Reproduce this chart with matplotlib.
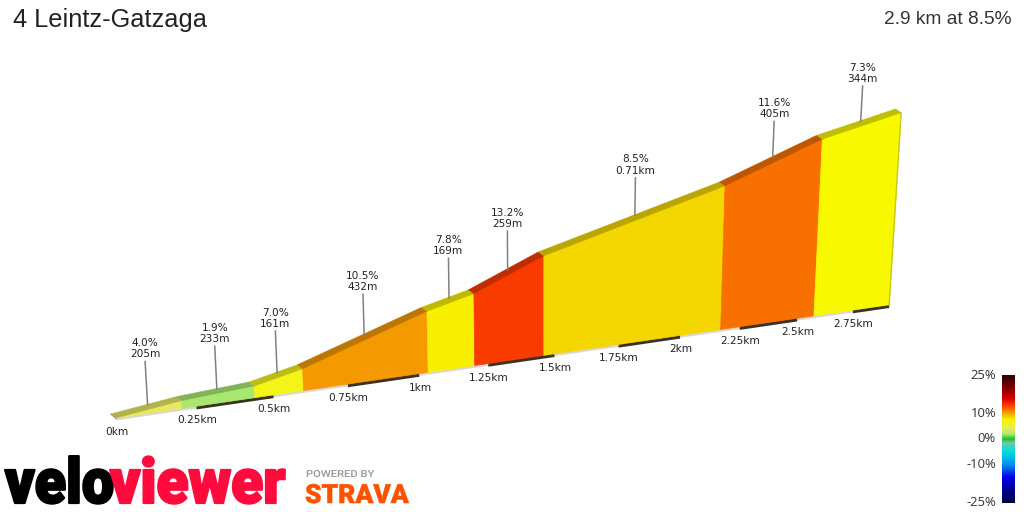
import numpy as np
import matplotlib
matplotlib.use("Agg")
import matplotlib.pyplot as plt
from matplotlib.transforms import Transform, Affine2D
from matplotlib.colors import LinearSegmentedColormap, Normalize
import matplotlib.patheffects as pe

# ---- data ----
title = "4 Leintz-Gatzaga"
summary = "2.9 km at 8.5%"
seg_len_m = [205, 233, 161, 432, 169, 259, 710, 405, 344]
seg_grade = [4.0, 1.9, 7.0, 10.5, 7.8, 13.2, 8.5, 11.6, 7.3]
seg_text = ["205m", "233m", "161m", "432m", "169m", "259m", "0.71km", "405m", "344m"]
tick_km = [0, 0.25, 0.5, 0.75, 1, 1.25, 1.5, 1.75, 2, 2.25, 2.5, 2.75]
tick_text = ["0km", "0.25km", "0.5km", "0.75km", "1km", "1.25km", "1.5km",
             "1.75km", "2km", "2.25km", "2.5km", "2.75km"]
cbar_ticks = [25, 10, 0, -10, -25]
grade_knots = [-25, -15, -10, -5, -1.5, 0, 1.9, 4, 7, 7.3, 7.8, 8.5, 10.5, 11.6, 13.2, 16, 20, 25]
grade_colors = ["#000040", "#0000e8", "#0090f0", "#00e0e0", "#70c8a8", "#18c020", "#a8e870",
                "#e8e860", "#f4f418", "#f8f800", "#f8f000", "#f4d800", "#f59a00", "#f87000",
                "#fa3c00", "#d80000", "#800000", "#300000"]


class Perspective(Transform):
    """(distance km, elevation m) -> page pixels of the oblique 3-D view."""
    input_dims = 2
    output_dims = 2
    is_separable = False

    def transform_non_affine(self, values):
        v = np.asarray(values, float)
        d, h = v[:, 0], v[:, 1]
        bx = 116 + 328.3 * d / (1 + 0.0819 * d)
        by = 418 - 0.1464 * (bx - 116)
        x = bx + 1.4e-4 * (bx - 545) * h
        y = by - 0.955 * h / (1 + 0.0819 * d)
        return np.column_stack([x, y])


class Stretch(pe.AbstractPathEffect):
    """Draw a text's glyphs scaled about its anchor, to fit the logo lettering."""

    def __init__(self, x0, y0, sx, sy, lw=0.0):
        super().__init__()
        self.x0, self.y0, self.sx, self.sy, self.lw = x0, y0, sx, sy, lw

    def draw_path(self, renderer, gc, tpath, affine, rgbFace=None):
        t = affine + Affine2D().translate(-self.x0, -self.y0).scale(self.sx, self.sy).translate(self.x0, self.y0)
        g = renderer.new_gc()
        g.copy_properties(gc)
        g.set_foreground(rgbFace)
        g.set_linewidth(self.lw)
        renderer.draw_path(g, tpath, t, rgbFace)
        g.restore()


P = Perspective()
W, H = 1024, 512
fig = plt.figure(figsize=(W / 100, H / 100), dpi=100)
ax = fig.add_axes([0, 0, 1, 1])
ax.axis("off")
ax.set_xlim(0, W)
ax.set_ylim(H, 0)

lo, hi = -25, 25
cmap = LinearSegmentedColormap.from_list(
    "grade", [((g - lo) / (hi - lo), c) for g, c in zip(grade_knots, grade_colors)], N=512)
norm = Normalize(lo, hi)

dist = np.concatenate([[0], np.cumsum(seg_len_m)]) / 1000
elev = np.concatenate([[0], np.cumsum(np.array(seg_len_m) * np.array(seg_grade) / 100)])
off = np.array([-5.5, -4.0])
small = dict(family="DejaVu Sans", fontsize=7.6, color="#222222", ha="center", va="center")
stick = P + Affine2D().translate(-1.5, -4) + ax.transData
stick_m = 47


def px(d, h):
    return P.transform(np.column_stack([d, h]))


# base strip with alternating quarter-km dashes
edges = tick_km + [dist[-1]]
for i in range(len(edges) - 1):
    p = px([edges[i], edges[i + 1]], [0, 0])
    dark = i % 2 == 1
    th = 3.2 if dark else 2.4
    ax.fill([p[0, 0], p[1, 0], p[1, 0], p[0, 0]],
            [p[0, 1] - .5, p[1, 1] - .5, p[1, 1] + th, p[0, 1] + th],
            color="#3a3226" if dark else "#dcd8d0", lw=0, zorder=1)
for t, lab in zip(tick_km, tick_text):
    ax.annotate(lab, xy=(t, 0), xycoords=P + ax.transData, xytext=(0.5, -14),
                textcoords="offset pixels", **small)

# start cap
s = px([0, 0], [0, 0])[0]
ax.fill([s[0] + off[0], s[0], s[0] + 1, s[0] + off[0] + .5],
        [s[1] + off[1] - 1, s[1] - 1, s[1] + 2, s[1] + off[1] + 1], color="#8f8f78", lw=0, zorder=2)

# walls, top strips and labels
for i, g in enumerate(seg_grade):
    col = np.array(cmap(norm(g))[:3])
    d0, d1, h0, h1 = dist[i], dist[i + 1], elev[i], elev[i + 1]
    ax.fill([d0, d1, d1, d0], [0, 0, h1, h0], transform=P + ax.transData,
            color=col, lw=0.5, zorder=3)
    t = px([d0, d1], [h0, h1])
    ax.fill([t[0, 0], t[1, 0], t[1, 0] + off[0], t[0, 0] + off[0]],
            [t[0, 1], t[1, 1], t[1, 1] + off[1], t[0, 1] + off[1]],
            color=col * 0.77, lw=0.3, zorder=4)
    dm, hm = (d0 + d1) / 2, (h0 + h1) / 2
    ax.plot([dm, dm], [hm, hm + stick_m], transform=stick, color="#808080", lw=1.1, zorder=5,
            solid_capstyle="butt")
    ax.annotate(f"{g:.1f}%\n{seg_text[i]}", xy=(dm, hm + stick_m), xycoords=stick,
                xytext=(0, 12), textcoords="offset pixels",
                linespacing=1.15, zorder=6, **small)

# right edge of last wall
e = px([dist[-1], dist[-1]], [0, elev[-1]])
ax.plot(e[:, 0], e[:, 1], color="#c8c820", lw=1, zorder=4)

# titles
ax.text(13, 20, title, family="Liberation Sans", fontsize=18.3, color="#222222", va="center", ha="left")
ax.text(1011, 19, summary, family="Liberation Sans", fontsize=13.75, color="#333333", va="center", ha="right")

# colour bar
vals = np.linspace(hi, lo, 256).reshape(-1, 1)
ax.imshow(vals, cmap=cmap, norm=norm, extent=[1002, 1015, 503, 375], aspect="auto", zorder=2)
for v in cbar_ticks:
    yy = np.interp(v, [lo, hi], [502, 375.5])
    ax.text(996, yy, f"{v}%", family="Open Sans", fontsize=9.4, color="#333333", ha="right", va="center")

# logos (display y runs upward from the page bottom)
base = 503
ax.text(5, base, "velo", family="Roboto", weight="black", fontsize=30, color="#000000",
        ha="left", va="baseline", zorder=3, path_effects=[Stretch(5, H - base, 1.38, 1.5, 1.6)])
ax.text(110, base, "viewer", family="Roboto", weight="black", fontsize=30, color="#ff0a3c",
        ha="left", va="baseline", zorder=4, path_effects=[Stretch(110, H - base, 1.41, 1.5, 1.6)])
ax.text(306, 477, "POWERED BY", family="Roboto", weight="medium", fontsize=7.0, color="#999999",
        ha="left", va="baseline", path_effects=[Stretch(306, H - 477, 1.15, 1.0)])
ax.text(305, base, "STRAVA", family="Roboto", weight="black", fontsize=19, color="#fc5200",
        ha="left", va="baseline", path_effects=[Stretch(305, H - base, 1.0, 1.0, 0.4)])

fig.savefig("out.png", dpi=100, facecolor="white")
